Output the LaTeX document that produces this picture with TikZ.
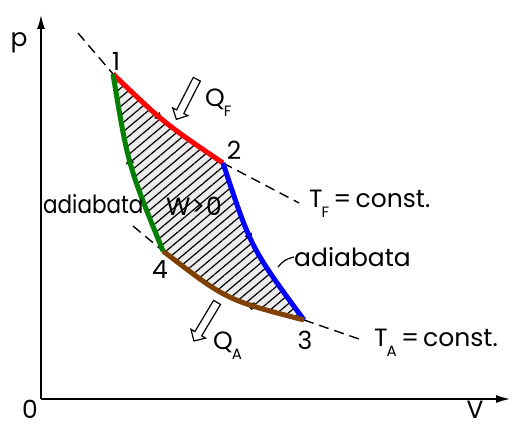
\documentclass[tikz,border=0pt]{standalone}
\usepackage{fontspec}
\setmainfont{Poppins}
\usetikzlibrary{arrows.meta,patterns.meta,shapes.arrows,decorations.markings}
\definecolor{brownc}{RGB}{128,64,0}
\definecolor{greenc}{RGB}{0,128,0}
\newcommand\mysub[1]{\kern-1pt\raisebox{-0.38em}{\fontsize{15}{15}\selectfont #1}}
\begin{document}
\begin{tikzpicture}[x=1pt,y=-1pt,
  lbl/.style={font=\fontsize{25}{25}\selectfont, inner sep=0pt},
  proc/.style={line width=5pt},
  iso/.style={dash pattern=on 10pt off 6pt, line width=1.4pt},
  heat/.style={single arrow, draw, line width=1.2pt, fill=white, inner xsep=0pt, inner ysep=3.4pt,
    single arrow head extend=4.5pt, minimum height=45pt, single arrow head indent=0pt},
  axis/.style={line width=1.5pt, -{Latex[length=14pt,width=8pt]}},
  midarrow/.style={postaction={decorate}, decoration={markings,
    mark=at position #1 with {\arrow[black]{Triangle[width=8pt,length=8pt]}}}}
  ]
\useasboundingbox (0,0) rectangle (512,427);
\fill[white] (0,0) rectangle (512,427);
% axes
\coordinate (O) at (41,399);
\coordinate (ytip) at (41,15);
\coordinate (xtip) at (510,399);
\draw[axis] (O) -- (ytip);
\draw[axis] (O) -- (xtip);
% states
\coordinate (p1) at (113,74);
\coordinate (p2) at (223,163);
\coordinate (p3) at (304,320);
\coordinate (p4) at (163,251);
% work area
\fill[gray!15] (p1) .. controls (164,123) .. (p2) .. controls (251,248) .. (p3)
  .. controls (226.5,300) .. (p4) .. controls (128,165) .. (p1) -- cycle;
\path[pattern={Lines[angle=40,distance=7pt,line width=1.2pt]}, pattern color=black]
  (p1) .. controls (164,123) .. (p2) .. controls (251,248) .. (p3)
  .. controls (226.5,300) .. (p4) .. controls (128,165) .. (p1) -- cycle;
% isotherm extensions
\coordinate (tf0) at (78,33);
\coordinate (tf1) at (299,203);
\coordinate (ta0) at (133,226);
\coordinate (ta1) at (359,339);
\draw[iso] (tf0) -- (p1);
\draw[iso] (p2) -- (tf1);
\draw[iso] (ta0) -- (p4);
\draw[iso] (p3) -- (ta1);
% direction marks
\path[midarrow=0.48] (p1) .. controls (164,123) .. (p2);
\path[midarrow=0.47] (p2) .. controls (251,248) .. (p3);
\path[midarrow=0.38] (p3) .. controls (226.5,300) .. (p4);
\path[midarrow=0.55] (p4) .. controls (128,165) .. (p1);
% processes
\draw[proc, red] (p1) .. controls (164,123) .. (p2);
\draw[proc, blue] (p2) .. controls (251,248) .. (p3);
\draw[proc, brownc] (p3) .. controls (226.5,300) .. (p4);
\draw[proc, greenc] (p4) .. controls (128,165) .. (p1);
% labels
\node[lbl] (n1) at (116,61) {1};
\node[lbl] (n2) at (234,150) {2};
\node[lbl] (n3) at (305,340) {3};
\node[lbl] (n4) at (160,270) {4};
\node[lbl] (pl) at (19,43) {p};
\node[lbl] (zl) at (30,409) {0};
\node[lbl] (vl) at (475,410) {V};
\node[lbl, anchor=base west] (tfl) at (309,208) {T\mysub{F}\,=\,const.};
\node[lbl, anchor=base west] (tal) at (374,347) {T\mysub{A}\,=\,const.};
\node[lbl, anchor=base west] (qfl) at (205,107) {Q\mysub{F}};
\node[lbl, anchor=base west] (qal) at (213,350) {Q\mysub{A}};
\node[lbl] (wl) at (194,206) {W\kern1pt>\kern1pt0};
\node[lbl, anchor=west, xscale=0.86] (ad1) at (43,204) {adiabata};
\node[lbl, anchor=west] (ad2) at (294,257) {adiabata};
\coordinate (adb) at (278,267);
\draw[line width=1.2pt] (adb) to[bend left=20] (ad2.west);
% heat arrows
\node[heat, rotate=243] (qfa) at (187.5,97.5) {};
\node[heat, rotate=239] (qaa) at (206.5,320) {};
\end{tikzpicture}
\end{document}
